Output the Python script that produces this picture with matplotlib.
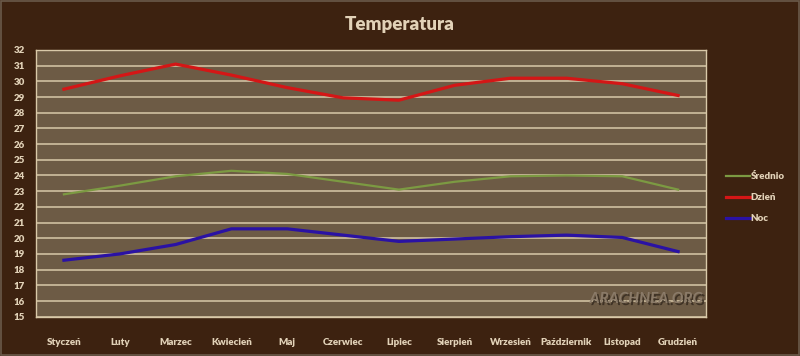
import matplotlib
matplotlib.use('Agg')
import matplotlib.pyplot as plt
import matplotlib.patheffects as pe
from matplotlib.patches import Rectangle

plt.rcParams['font.family'] = ['Lato', 'DejaVu Sans']

months = ['Styczeń', 'Luty', 'Marzec', 'Kwiecień', 'Maj', 'Czerwiec', 'Lipiec',
          'Sierpień', 'Wrzesień', 'Październik', 'Listopad', 'Grudzień']
srednio = [22.8, 23.35, 23.95, 24.3, 24.1, 23.6, 23.1, 23.6, 23.95, 24.0, 23.95, 23.1]
dzien = [29.5, 30.35, 31.1, 30.4, 29.6, 28.95, 28.8, 29.75, 30.2, 30.2, 29.85, 29.1]
noc = [18.6, 19.0, 19.6, 20.6, 20.6, 20.2, 19.8, 19.95, 20.1, 20.2, 20.05, 19.15]

bg = '#3d2210'
panel = '#6d5b45'
grid = '#d9c9a9'
txt = '#e2d2b8'

fig = plt.figure(figsize=(8, 3.56), dpi=100, facecolor=bg)
ax = fig.add_axes([0.045, 0.1104, 0.8375, 0.7492])
ax.set_facecolor(panel)

x = list(range(len(months)))
ax.plot(x, srednio, color='#7c9a42', lw=1.6, label='Średnio', zorder=3)
ax.plot(x, dzien, color='#d41616', lw=2.3, label='Dzień', zorder=3)
ax.plot(x, noc, color='#2a12a4', lw=2.3, label='Noc', zorder=3)

ax.set_xlim(-0.5, 11.5)
ax.set_ylim(15, 32)
ax.set_yticks(range(15, 33))
ax.set_xticks(x)
ax.set_xticklabels(months)
ax.grid(axis='y', color=grid, lw=1.1, zorder=1)
ax.set_axisbelow(True)
ax.tick_params(length=0, colors=txt, labelsize=7)
ax.tick_params(axis='x', pad=15)
ax.tick_params(axis='y', pad=8)
for lab in ax.get_xticklabels() + ax.get_yticklabels():
    lab.set_fontweight('heavy')
for s in ax.spines.values():
    s.set_color(grid)
    s.set_linewidth(1.0)

fig.text(0.5, 0.932, 'Temperatura', ha='center', va='center', color=txt,
         fontsize=13.5, fontweight='heavy')

leg = fig.legend(loc='center left', bbox_to_anchor=(0.897, 0.445), frameon=False,
                 fontsize=7, handlelength=2.4, handletextpad=0.1, labelspacing=1.25)
for t in leg.get_texts():
    t.set_color(txt)
    t.set_fontweight('heavy')

ax.text(0.995, 0.04, 'ARACHNEA.ORG', transform=ax.transAxes, ha='right', va='bottom',
        fontsize=11, fontstyle='italic', fontweight='bold', color='#8a7a68', zorder=4,
        path_effects=[pe.withSimplePatchShadow(offset=(1.5, -1.5), shadow_rgbFace='#3a2e22', alpha=0.9)])

fig.patches.append(Rectangle((0.001, 0.002), 0.998, 0.996, transform=fig.transFigure,
                             fill=False, edgecolor='#6a5a4a', lw=1.2))

fig.savefig('out.png', dpi=100, facecolor=bg)
